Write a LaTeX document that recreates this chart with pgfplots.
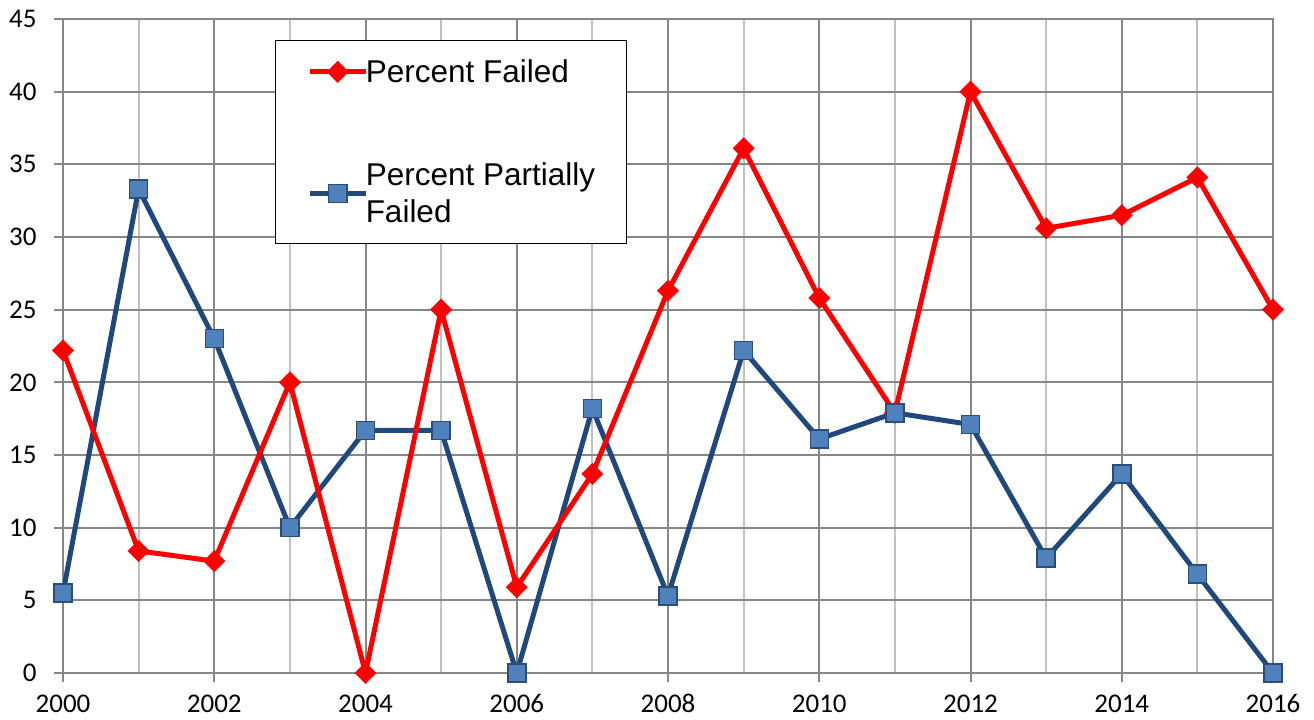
\documentclass[border=0pt]{standalone}
\usepackage{pgfplots}
\pgfplotsset{compat=1.18}
\usepackage{fontspec}
\setmainfont{Carlito}
\newfontfamily\legendfont{Liberation Sans}
\definecolor{gridmaj}{HTML}{868686}
\definecolor{gridmin}{HTML}{C0C0C0}
\definecolor{redline}{HTML}{FF0000}
\definecolor{blueline}{HTML}{1F497D}
\definecolor{bluefill}{HTML}{4F81BD}
\definecolor{blueedge}{HTML}{2C4D75}

\pgfplotstableread{
year failed partial
2000 22.2 5.5
2001 8.4 33.3
2002 7.7 23.0
2003 20.0 10.0
2004 0.0 16.7
2005 25.0 16.7
2006 5.9 0.0
2007 13.7 18.2
2008 26.3 5.3
2009 36.1 22.2
2010 25.8 16.1
2011 17.9 17.9
2012 40.0 17.1
2013 30.6 7.9
2014 31.5 13.7
2015 34.1 6.8
2016 25.0 0.0
}\datatable

\tikzset{
  redstyle/.style={redline, line width=5pt, mark=square*, mark size=7.5pt,
    mark options={solid, fill=redline, draw=redline, line width=0.5pt, rotate=45}},
  bluestyle/.style={blueline, line width=5pt, mark=square*, mark size=9pt,
    mark options={solid, fill=bluefill, draw=blueedge, line width=1.5pt}},
}

\begin{document}
\begin{tikzpicture}
\begin{axis}[
  name=ax,
  scale only axis,
  width=1210pt, height=654pt,
  xmin=2000, xmax=2016, ymin=0, ymax=45,
  xtick={2000,2002,...,2016},
  minor xtick={2001,2003,...,2015},
  ytick={0,5,...,45},
  grid=both,
  major grid style={gridmaj, line width=2pt},
  minor grid style={gridmin, line width=2pt},
  axis line style={gridmaj, line width=2pt},
  tick style={gridmaj, line width=2pt},
  major tick length=9pt,
  minor tick length=0pt,
  tick align=outside,
  tick pos=left,
  /pgf/number format/1000 sep={},
  /pgf/number format/assume math mode=true,
  ticklabel style={font=\fontsize{27}{32}\selectfont, text=black},
  yticklabel style={xshift=-14pt},
  xticklabel style={yshift=-9pt},
  legend cell align=left,
  legend style={at={(rel axis cs:0.1752,0.968)}, anchor=north west,
    draw=black, line width=1.5pt, fill=white,
    font=\legendfont\fontsize{31.5}{37}\selectfont,
    inner xsep=31.5pt, inner ysep=19pt, row sep=79pt, column sep=-2.5pt,
    cells={anchor=west, align=left}, nodes={inner sep=0pt}},
  legend image code/.code={\draw[mark repeat=2,mark phase=2] plot coordinates {(0pt,0pt) (28pt,0pt) (56pt,0pt)};},
]
\addplot[bluestyle, no markers, forget plot] table[x=year, y=partial] {\datatable};
\addplot[redstyle, no markers, forget plot] table[x=year, y=failed] {\datatable};
\addplot[redstyle, only marks, forget plot] table[x=year, y=failed] {\datatable};
\addplot[bluestyle, only marks, forget plot] table[x=year, y=partial] {\datatable};
\addlegendimage{redstyle}
\addlegendentry{Percent Failed}
\addlegendimage{bluestyle}
\addlegendentry{Percent Partially\\Failed}
\end{axis}
\pgfresetboundingbox
\path ([shift={(-63pt,-46pt)}]ax.south west) rectangle ([shift={(41pt,19pt)}]ax.north east);
\end{tikzpicture}
\end{document}
